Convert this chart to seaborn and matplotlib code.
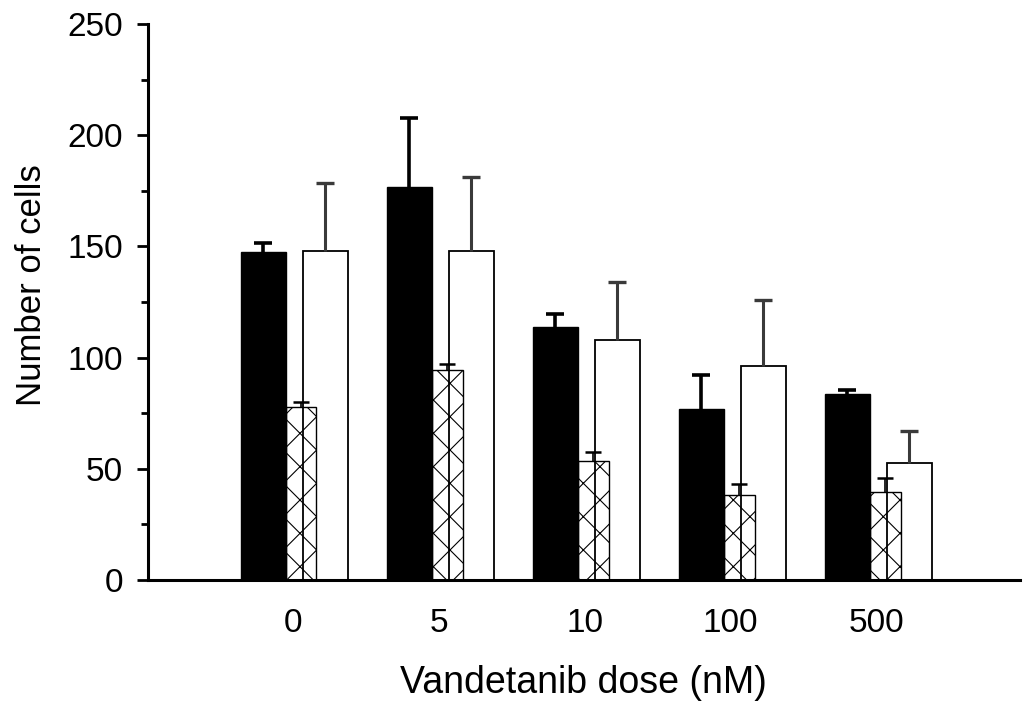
import numpy as np
import pandas as pd
import matplotlib
matplotlib.use("Agg")
import matplotlib.pyplot as plt
import seaborn as sns

doses = ["0", "5", "10", "100", "500"]

solid = [147.5, 176.7, 113.8, 77.0, 83.6]
solid_err = [4.0, 31.0, 6.0, 15.0, 1.8]

hatched = [77.8, 94.4, 53.5, 38.0, 39.6]
hatched_err = [2.2, 2.6, 4.0, 5.0, 6.4]

open_ = [148.0, 148.0, 108.0, 96.0, 52.5]
open_err = [30.5, 33.0, 26.0, 30.0, 14.5]

sns.set_style("ticks")
plt.rcParams["font.family"] = ["Liberation Sans", "DejaVu Sans"]
plt.rcParams["hatch.linewidth"] = 0.8
plt.rcParams["text.color"] = "black"
plt.rcParams["axes.labelcolor"] = "black"
plt.rcParams["xtick.color"] = "black"
plt.rcParams["ytick.color"] = "black"
plt.rcParams["axes.edgecolor"] = "black"

pos = np.arange(len(doses))


def up_err(ax, x, y, err, **kw):
    # only the upper half of the error bar, no cap on the bar top
    _, caps, _ = ax.errorbar(x, y, yerr=[np.zeros(len(err)), err],
                             fmt="none", **kw)
    caps[0].set_visible(False)


fig = plt.figure(figsize=(10.26, 7.06), dpi=100)
ax = fig.add_axes([0.1442, 0.1785, 0.8498, 0.7875])

# black bars
df = pd.DataFrame({"x": pos - 0.202, "y": solid})
sns.barplot(data=df, x="x", y="y", native_scale=True, width=0.308,
            color="black", edgecolor="black", linewidth=1.0,
            errorbar=None, ax=ax)
up_err(ax, df["x"], df["y"], solid_err, ecolor="black",
       elinewidth=2.6, capsize=6.5, capthick=2.6)

# open bars
df = pd.DataFrame({"x": pos + 0.223, "y": open_})
sns.barplot(data=df, x="x", y="y", native_scale=True, width=0.308,
            color="white", edgecolor="black", linewidth=1.3,
            errorbar=None, ax=ax)
up_err(ax, df["x"], df["y"], open_err, ecolor="#3a3a3a",
       elinewidth=2.2, capsize=6.5, capthick=2.4)

# cross-hatched bars, drawn on top
df = pd.DataFrame({"x": pos + 0.058, "y": hatched})
sns.barplot(data=df, x="x", y="y", native_scale=True, width=0.212,
            color="white", errorbar=None, ax=ax)
for p in ax.patches[-5:]:
    p.set_facecolor("none")
    p.set_edgecolor("black")
    p.set_linewidth(1.0)
    p.set_hatch("x")
up_err(ax, df["x"], df["y"], hatched_err, ecolor="black",
       elinewidth=1.2, capsize=5.5, capthick=1.8)

ax.set_xlim(-0.99, 4.98)
ax.set_ylim(0, 250)
ax.set_xticks(pos)
ax.set_xticklabels(doses)
ax.set_yticks(np.arange(0, 251, 50))
ax.set_yticks(np.arange(25, 250, 50), minor=True)

sns.despine(ax=ax)
ax.spines["left"].set_linewidth(2.2)
ax.spines["bottom"].set_linewidth(2.2)
ax.tick_params(axis="x", length=0, pad=20, labelsize=24)
ax.tick_params(axis="y", which="major", length=8, width=2, pad=10, labelsize=24)
ax.tick_params(axis="y", which="minor", length=5, width=2)

ax.set_xlabel("Vandetanib dose (nM)", fontsize=27, labelpad=19)
ax.set_ylabel("Number of cells", fontsize=25)
ax.yaxis.set_label_coords(-0.115, 0.53)

fig.savefig("out.png", dpi=100)
